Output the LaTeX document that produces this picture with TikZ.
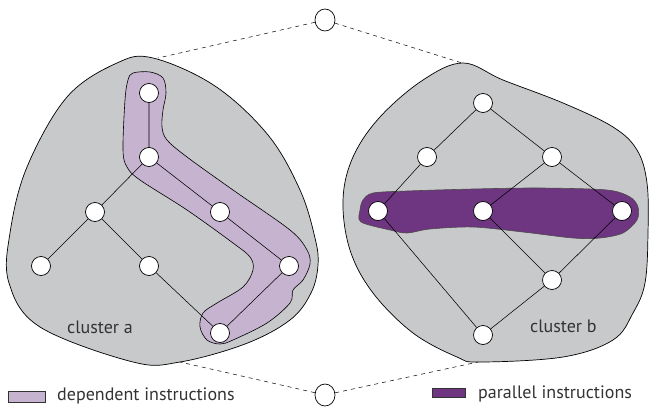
\documentclass[tikz,border=0pt]{standalone}
\usepackage{fontspec}
\setmainfont{PT Sans}
\usetikzlibrary{shapes.geometric}
\definecolor{clgray}{HTML}{C8C9CA}
\definecolor{deppurple}{HTML}{C6B3D0}
\definecolor{parpurple}{HTML}{6E3580}
\definecolor{txtgray}{HTML}{333333}
\begin{document}
\begin{tikzpicture}[x=1pt,y=-1pt,
  vtx/.style={circle,draw=black,fill=white,line width=0.7pt,inner sep=0pt,minimum size=19pt},
  edge/.style={draw=black,line width=0.55pt},
  clusterblob/.style={draw=black,fill=clgray,line width=0.7pt},
  depblob/.style={draw=black,fill=deppurple,line width=0.6pt},
  parblob/.style={draw=black!70,fill=parpurple,line width=0.6pt},
  dashlink/.style={draw=black,line width=0.5pt,dash pattern=on 4pt off 4pt},
  lbl/.style={text=txtgray,font=\fontsize{18}{21}\selectfont,inner sep=0pt}]
\useasboundingbox (0,0) rectangle (655,409);

% cluster outlines
\path[clusterblob] plot[smooth cycle,tension=0.6] coordinates {
  (153,58) (215,86) (268,135) (300,190) (315,238) (318,265) (311,293)
  (290,320) (245,344) (180,362) (133,362) (40,327) (9,283) (10,233) (27,167) (67,97) (117,63)};
\path[clusterblob] plot[smooth cycle,tension=0.6] coordinates {
  (463,63) (503,80) (563,103) (613,127) (637,150) (647,183) (648,233)
  (645,283) (633,313) (613,340) (563,357) (480,362) (457,357) (413,333)
  (373,293) (350,250) (343,200) (353,157) (380,117) (423,80)};

% dependent band
\path[depblob] plot[smooth cycle,tension=0.55] coordinates {
  (133,73) (150,72) (163,78) (166,93) (163,110) (162,127) (167,140) (187,157)
  (233,190) (290,230) (307,250) (310,264) (303,280) (293,290) (290,303)
  (267,323) (233,340) (220,344) (207,340) (200,327) (203,313) (217,303)
  (243,287) (253,270) (250,257) (233,243) (187,210) (140,180) (127,167)
  (123,150) (125,100) (128,80)};

% parallel band
\path[parblob] plot[smooth cycle,tension=0.5] coordinates {
  (360,210) (361,222) (390,230) (407,233) (430,229) (473,227) (523,232)
  (573,238) (600,238) (623,233) (637,220) (638,207) (630,197) (607,190)
  (540,188) (473,189) (407,191) (373,193) (363,200)};

% cluster a nodes
\node[vtx] (a1) at (149,93) {};
\node[vtx] (a2) at (149,157) {};
\node[vtx] (a3) at (95,212) {};
\node[vtx] (a4) at (41,266) {};
\node[vtx] (a5) at (149,266) {};
\node[vtx] (a6) at (220,212) {};
\node[vtx] (a7) at (289,266) {};
\node[vtx] (a8) at (220,333) {};
% cluster b nodes
\node[vtx] (b1) at (483,103) {};
\node[vtx] (b2) at (427,157) {};
\node[vtx] (b3) at (552,157) {};
\node[vtx] (b4) at (378,211) {};
\node[vtx] (b5) at (483,211) {};
\node[vtx] (b6) at (622,211) {};
\node[vtx] (b7) at (552,280) {};
\node[vtx] (b8) at (483,335) {};

% edges
\path[edge] (a1) -- (a2) (a2) -- (a3) (a2) -- (a6) (a3) -- (a4) (a3) -- (a5)
  (a6) -- (a7) (a7) -- (a8) (a5) -- (a8);
\path[edge] (b1) -- (b2) (b1) -- (b3) (b2) -- (b4) (b3) -- (b5) (b3) -- (b6)
  (b4) -- (b8) (b5) -- (b7) (b6) -- (b7) (b7) -- (b8);

% top/bottom nodes and dashed links
\node[vtx,ellipse,minimum width=20pt,minimum height=22pt] (top) at (325,20) {};
\node[vtx,ellipse,minimum width=20pt,minimum height=22pt] (bot) at (325,395) {};
\coordinate (ctl) at (158,58);
\coordinate (ctr) at (462,63);
\coordinate (cbl) at (180,362);
\coordinate (cbr) at (478,362);
\path[dashlink] (top) -- (ctl) (top) -- (ctr) (bot) -- (cbl) (bot) -- (cbr);

% labels
\node[lbl,anchor=base west] (la) at (67,333) {cluster a};
\node[lbl,anchor=base west] (lb) at (530,332) {cluster b};

% legend
\node[draw=black!80,fill=deppurple,line width=0.5pt,minimum width=37pt,minimum height=11pt,inner sep=0pt] (kd) at (26.5,396.5) {};
\node[lbl,anchor=base west] (td) at (57,400) {dependent instructions};
\node[draw=black!80,fill=parpurple,line width=0.5pt,minimum width=33pt,minimum height=9pt,inner sep=0pt] (kp) at (448.5,392.5) {};
\node[lbl,anchor=base west] (tp) at (478,398) {parallel instructions};
\end{tikzpicture}
\end{document}
